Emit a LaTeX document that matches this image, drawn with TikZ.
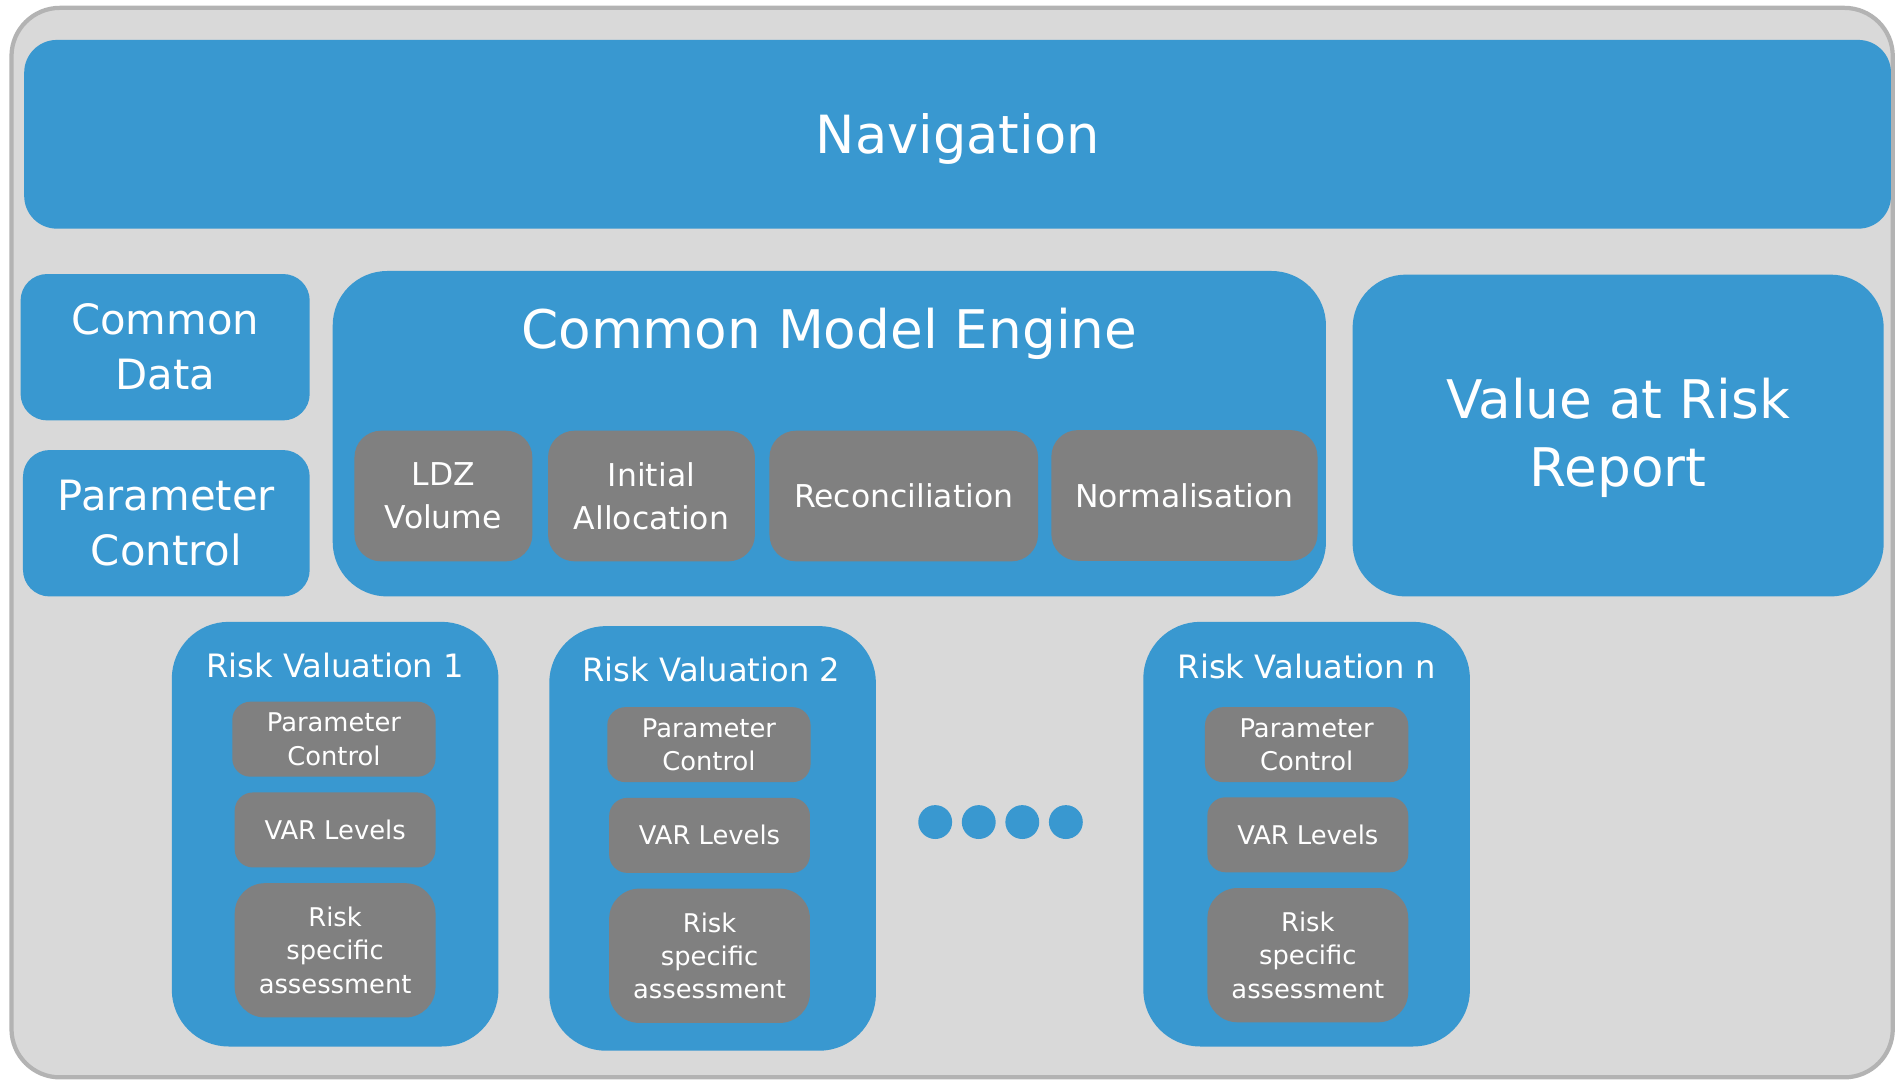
\documentclass[tikz,border=0pt]{standalone}
\usepackage{fontspec}
\setmainfont{DejaVu Sans}
\definecolor{bluebox}{HTML}{3998D0}
\definecolor{graybox}{HTML}{808080}
\definecolor{framefill}{HTML}{D9D9D9}
\definecolor{frameline}{HTML}{B3B3B3}
\begin{document}
\begin{tikzpicture}[x=1pt,y=-1pt,
  bluerr/.style={fill=bluebox, rounded corners=#1, text=white, align=center, inner sep=0pt},
  grayrr/.style={fill=graybox, rounded corners=#1, text=white, align=center, inner sep=0pt},
  titletext/.style={text=white, anchor=base, inner sep=0pt},
  fnav/.style={font=\fontsize{43.5}{52}\selectfont},
  fside/.style={font=\fontsize{34.5}{45.5}\selectfont},
  fbig/.style={font=\fontsize{44}{56}\selectfont},
  fmid/.style={font=\fontsize{26}{35.5}\selectfont},
  ftitle/.style={font=\fontsize{26.6}{35.5}\selectfont},
  fsmall/.style={font=\fontsize{21.3}{27.5}\selectfont},
  dotnode/.style={circle, fill=bluebox, minimum size=28pt, inner sep=0pt}
]
\useasboundingbox (0,0) rectangle (1568,893);
\fill[white] (0,0) rectangle (1568,893);
% outer frame
\node[draw=frameline, line width=3.5pt, fill=framefill, rounded corners=40pt,
      minimum width=1555pt, minimum height=884pt, inner sep=0pt] (frame) at (787,448.5) {};

% Navigation
\node[bluerr=27pt, minimum width=1543pt, minimum height=156pt] (nav) at (791.5,111) {};
\node[titletext, fnav] (navtext) at (791.5,126.5) {Navigation};

% left column
\node[bluerr=22pt, fside, minimum width=239pt, minimum height=121pt] (cdata) at (136.5,287) {Common\\Data};
\node[bluerr=22pt, fside, minimum width=237pt, minimum height=121pt] (pctrl) at (137.5,432.5) {Parameter\\Control};

% Common Model Engine
\node[bluerr=45pt, minimum width=821pt, minimum height=269pt] (cme) at (685.5,358.5) {};
\node[titletext, fbig] (cmetitle) at (685.5,288) {Common Model Engine};
\node[grayrr=22pt, fmid, minimum width=147pt, minimum height=108pt] (ldz) at (366.5,410) {LDZ\\Volume};
\node[grayrr=22pt, fmid, minimum width=171pt, minimum height=108pt] (init) at (538.5,410) {Initial\\Allocation};
\node[grayrr=22pt, fmid, minimum width=222pt, minimum height=108pt] (recon) at (747,410) {Reconciliation};
\node[grayrr=22pt, fmid, minimum width=220pt, minimum height=108pt] (norm) at (979,409.5) {Normalisation};

% Value at Risk Report
\node[bluerr=44pt, minimum width=439pt, minimum height=266pt] (var) at (1337.5,360) {};
\node[text=white, fbig, align=center, inner sep=0pt] (vartext) at (1337.5,362) {Value at Risk\\Report};

% Risk Valuation 1
\node[bluerr=47pt, minimum width=270pt, minimum height=351pt] (rv1) at (277,689.5) {};
\node[titletext, ftitle] (rv1t) at (277,560) {Risk Valuation 1};
\node[grayrr=15pt, fsmall, minimum width=168pt, minimum height=62pt] (rv1pc) at (276,611) {Parameter\\Control};
\node[grayrr=15pt, fsmall, minimum width=166pt, minimum height=62pt] (rv1vl) at (277,686) {VAR Levels};
\node[grayrr=25pt, fsmall, minimum width=166pt, minimum height=111pt] (rv1rs) at (277,785.5) {Risk\\specific\\assessment};

% Risk Valuation 2
\node[bluerr=47pt, minimum width=270pt, minimum height=351pt] (rv2) at (589,693) {};
\node[titletext, ftitle] (rv2t) at (588,563.5) {Risk Valuation 2};
\node[grayrr=15pt, fsmall, minimum width=168pt, minimum height=62pt] (rv2pc) at (586,615.5) {Parameter\\Control};
\node[grayrr=15pt, fsmall, minimum width=166pt, minimum height=62pt] (rv2vl) at (586.5,690.5) {VAR Levels};
\node[grayrr=25pt, fsmall, minimum width=166pt, minimum height=111pt] (rv2rs) at (586.5,790) {Risk\\specific\\assessment};

% dots
\node[dotnode] (d1) at (773,679.5) {};
\node[dotnode] (d2) at (809,679.5) {};
\node[dotnode] (d3) at (845,679.5) {};
\node[dotnode] (d4) at (881,679.5) {};

% Risk Valuation n
\node[bluerr=47pt, minimum width=270pt, minimum height=351pt] (rvn) at (1080,689.5) {};
\node[titletext, ftitle] (rvnt) at (1080,560.5) {Risk Valuation n};
\node[grayrr=15pt, fsmall, minimum width=168pt, minimum height=62pt] (rvnpc) at (1080,615.5) {Parameter\\Control};
\node[grayrr=15pt, fsmall, minimum width=166pt, minimum height=62pt] (rvnvl) at (1081,690) {VAR Levels};
\node[grayrr=25pt, fsmall, minimum width=166pt, minimum height=111pt] (rvnrs) at (1081,789.5) {Risk\\specific\\assessment};
\end{tikzpicture}
\end{document}
